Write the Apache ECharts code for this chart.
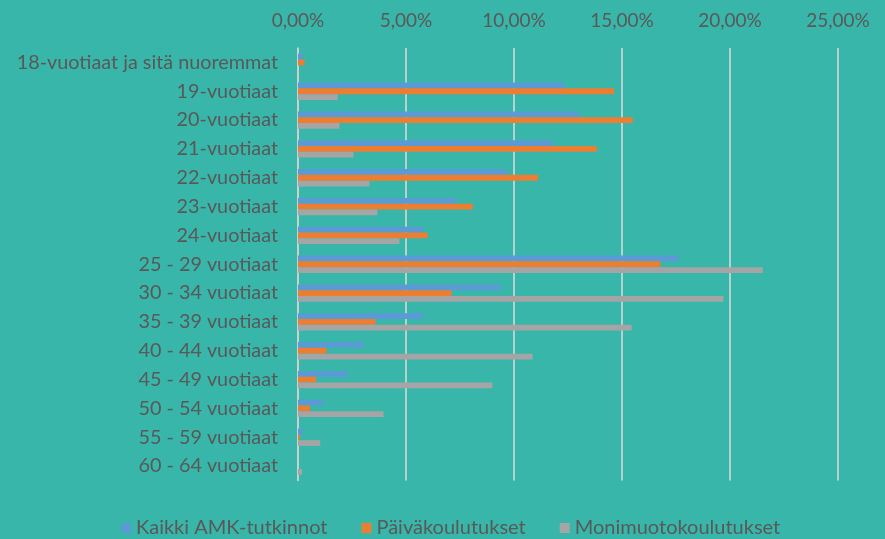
<!DOCTYPE html>
<html>
<head>
<meta charset="utf-8">
<script src="https://cdn.jsdelivr.net/npm/echarts@6/dist/echarts.min.js"></script>
<style>
  html, body { margin: 0; padding: 0; background: #38b6aa; }
  #chart { width: 885px; height: 539px; }
</style>
</head>
<body>
<div id="chart"></div>
<script>
// ikäryhmät
const categories = [
    '18-vuotiaat ja sitä nuoremmat', '19-vuotiaat', '20-vuotiaat', '21-vuotiaat',
    '22-vuotiaat', '23-vuotiaat', '24-vuotiaat', '25 - 29 vuotiaat', '30 - 34 vuotiaat',
    '35 - 39 vuotiaat', '40 - 44 vuotiaat', '45 - 49 vuotiaat', '50 - 54 vuotiaat',
    '55 - 59 vuotiaat', '60 - 64 vuotiaat'
];
const seriesNames = ['Kaikki AMK-tutkinnot', 'Päiväkoulutukset', 'Monimuotokoulutukset'];
const kaikki = [0.22, 12.3, 13.0, 11.8, 9.67, 7.29, 5.78, 17.63, 9.39, 5.78, 3.03, 2.32, 1.17, 0.22, 0];
const paiva = [0.3, 14.64, 15.5, 13.83, 11.12, 8.09, 6.0, 16.78, 7.11, 3.59, 1.32, 0.84, 0.56, 0.08, 0];
const monimuoto = [0, 1.84, 1.92, 2.57, 3.31, 3.68, 4.7, 21.52, 19.7, 15.45, 10.86, 9.0, 3.96, 1.03, 0.19];
const xTicks = [0, 5, 10, 15, 20, 25];

const textColor = '#595959';
const fontFamily = 'Lato, "Open Sans", sans-serif';

const chart = echarts.init(document.getElementById('chart'));
const mkSeries = (name, data, color) => ({
    name: name,
    type: 'bar',
    data: data,
    barWidth: 5.8,
    barGap: '0%',
    itemStyle: { color: color }
});
const option = {
    backgroundColor: '#38b6aa',
    textStyle: { fontFamily: fontFamily },
    grid: { left: 298, right: 47, top: 48, bottom: 58.5 },
    legend: {
        bottom: -4,
        left: 116,
        icon: 'rect',
        itemWidth: 10,
        itemHeight: 10,
        itemGap: 34,
        textStyle: { color: textColor, fontSize: 20, fontFamily: fontFamily }
    },
    xAxis: {
        type: 'value',
        position: 'top',
        min: xTicks[0],
        max: xTicks[xTicks.length - 1],
        interval: 5,
        axisLine: { show: false },
        axisTick: { show: false },
        splitLine: { lineStyle: { color: '#dcdcdc', width: 1.5 } },
        axisLabel: {
            color: textColor,
            fontSize: 19,
            margin: 18,
            formatter: v => v.toFixed(2).replace('.', ',') + '%'
        }
    },
    yAxis: {
        type: 'category',
        data: categories,
        inverse: true,
        axisLine: { lineStyle: { color: '#d0d0d0', width: 1.5 } },
        axisTick: { show: false },
        axisLabel: { color: textColor, fontSize: 19.8, margin: 20 }
    },
    series: [
        mkSeries(seriesNames[0], kaikki, '#5b9bd5'),
        mkSeries(seriesNames[1], paiva, '#ed7d31'),
        mkSeries(seriesNames[2], monimuoto, '#a5a5a5')
    ]
};
chart.setOption(option);
</script>
</body>
</html>
